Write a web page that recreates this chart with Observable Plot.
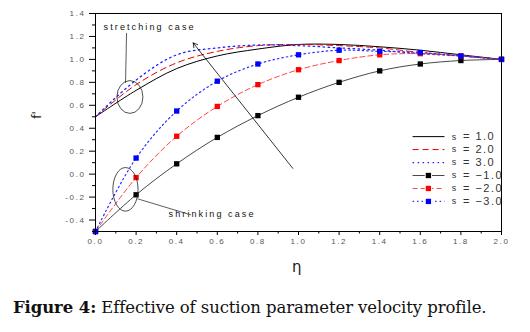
<!DOCTYPE html>
<html><head><meta charset="utf-8">
<script src="https://cdn.jsdelivr.net/npm/d3@7"></script>
<script src="https://cdn.jsdelivr.net/npm/@observablehq/plot@0.6"></script>
<style>
body{margin:0;background:#fff;width:530px;height:332px;overflow:hidden;position:relative}
#chart{position:absolute;left:0;top:0}
#cap{position:absolute;left:13px;top:298px;font-family:"DejaVu Serif",serif;font-size:16.5px;color:#111;white-space:nowrap;letter-spacing:-0.1px}
.axl{position:absolute;font-family:"DejaVu Sans",sans-serif;color:#222}
#ylab{left:33px;top:108px;font-size:12px;transform:rotate(-90deg);transform-origin:center}
#xlab{left:292px;top:258px;font-size:15px}
</style></head><body>
<div id="chart"></div>
<div class="axl" id="ylab">f'</div>
<div class="axl" id="xlab">η</div>
<div id="cap"><b>Figure 4:</b> Effective of suction parameter velocity profile.</div>
<script>
// ---- data ----
const eta = [0.0, 0.2, 0.4, 0.6, 0.8, 1.0, 1.2, 1.4, 1.6, 1.8, 2.0];
const sPos1 = [0.50, 0.73, 0.92, 1.03, 1.09, 1.13, 1.13, 1.11, 1.08, 1.04, 1.00];
const sPos2 = [0.50, 0.78, 0.97, 1.07, 1.12, 1.13, 1.12, 1.10, 1.06, 1.03, 1.00];
const sPos3 = [0.50, 0.82, 1.04, 1.10, 1.125, 1.12, 1.10, 1.08, 1.05, 1.03, 1.00];
const sNeg1 = [-0.50, -0.18, 0.09, 0.32, 0.51, 0.67, 0.80, 0.90, 0.96, 0.99, 1.00];
const sNeg2 = [-0.50, -0.03, 0.33, 0.59, 0.78, 0.91, 0.99, 1.04, 1.05, 1.03, 1.00];
const sNeg3 = [-0.50, 0.14, 0.55, 0.81, 0.96, 1.04, 1.08, 1.07, 1.06, 1.03, 1.00];
const seriesLabels = ["= 1.0", "= 2.0", "= 3.0", "= \u22121.0", "= \u22122.0", "= \u22123.0"];
const xTicks = [0.0, 0.2, 0.4, 0.6, 0.8, 1.0, 1.2, 1.4, 1.6, 1.8, 2.0];
const xMinor = [0.1, 0.3, 0.5, 0.7, 0.9, 1.1, 1.3, 1.5, 1.7, 1.9];
const yTicks = [-0.4, -0.2, 0.0, 0.2, 0.4, 0.6, 0.8, 1.0, 1.2, 1.4];
const yMinor = [-0.5, -0.3, -0.1, 0.1, 0.3, 0.5, 0.7, 0.9, 1.1, 1.3];
const notes = [
  {text: "stretching case", eta: 0.04, f: 1.28},
  {text: "shrinking case", eta: 0.36, f: -0.345}
];
const leaders = [
  {eta1: 0.153, f1: 1.23, eta2: 0.148, f2: 0.795},
  {eta1: 0.207, f1: -0.215, eta2: 0.47, f2: -0.355}
];
const arrowData = [{eta1: 0.972, f1: 0.05, eta2: 0.481, f2: 1.144}];
const ellipses = [
  {eta: 0.172, f: 0.668, rx: 0.064, ry: 0.143},
  {eta: 0.150, f: -0.137, ry: 0.19, rx: 0.062}
];

// ---- build ----
const styles = [
  {stroke: "#000", dash: null, w: 1.0, marker: null},
  {stroke: "#e00000", dash: "6,4", w: 1.0, marker: null},
  {stroke: "#2020ff", dash: "1.5,3.5", w: 1.3, marker: null},
  {stroke: "#333", dash: null, w: 0.9, marker: "#000"},
  {stroke: "#ff3030", dash: "5,3", w: 0.9, marker: "#ff0000"},
  {stroke: "#3030ff", dash: "1.5,3", w: 1.2, marker: "#0000ff"}
];
const allValues = [sPos1, sPos2, sPos3, sNeg1, sNeg2, sNeg3];
const rows = allValues.flatMap((vals, k) => eta.map((e, i) => ({k, eta: e, f: vals[i]})));

// legend anchor (data units)
const legX1 = 1.562, legX2 = 1.719, legMid = 1.64, legS = 1.755, legEq = 1.81;
const legTop = 0.327, legStep = 0.113;
const legend = seriesLabels.map((label, k) => ({k, label, f: legTop - k * legStep}));

const marks = [];
styles.forEach((st, k) => {
  marks.push(Plot.line(rows.filter(d => d.k === k), {
    x: "eta", y: "f", stroke: st.stroke, strokeWidth: st.w,
    strokeDasharray: st.dash, curve: "catmull-rom"
  }));
});
styles.forEach((st, k) => {
  if (st.marker) marks.push(Plot.dot(rows.filter(d => d.k === k), {
    x: "eta", y: "f", symbol: "square", r: 3, fill: st.marker, stroke: "none"
  }));
});
// legend
styles.forEach((st, k) => {
  const L = legend.filter(d => d.k === k);
  marks.push(Plot.link(L, {x1: () => legX1, x2: () => legX2, y1: "f", y2: "f",
    stroke: st.stroke, strokeWidth: st.w, strokeDasharray: st.dash}));
  if (st.marker) marks.push(Plot.dot(L, {x: () => legMid, y: "f", symbol: "square", r: 3, fill: st.marker, stroke: "#fff", strokeWidth: 2}));
  if (st.marker) marks.push(Plot.dot(L, {x: () => legMid, y: "f", symbol: "square", r: 3, fill: st.marker, stroke: "none"}));
});
marks.push(Plot.text(legend, {x: () => legS, y: "f", text: () => "s", textAnchor: "start", fontSize: 9, fill: "#333", fontFamily: "Arial"}));
marks.push(Plot.text(legend, {x: () => legEq, y: "f", text: "label", textAnchor: "start", fontSize: 11, fill: "#333", fontFamily: "Arial", className: "spaced"}));
// annotations
marks.push(Plot.text(notes, {x: "eta", y: "f", text: "text", textAnchor: "start", fontSize: 9, fill: "#111", fontFamily: "Arial", className: "spaced2"}));
marks.push(Plot.link(leaders, {x1: "eta1", y1: "f1", x2: "eta2", y2: "f2", stroke: "#333", strokeWidth: 0.8}));
marks.push(Plot.arrow(arrowData, {x1: "eta1", y1: "f1", x2: "eta2", y2: "f2", stroke: "#000", strokeWidth: 0.8, headLength: 9, bend: 0}));
// axes
marks.push(Plot.axisX({ticks: xTicks, tickSize: 4, tickPadding: 3, fontSize: 8, tickFormat: d => d.toFixed(1), label: null}));
marks.push(Plot.axisX({ticks: xMinor, tickSize: 2.5, text: null, label: null}));
marks.push(Plot.axisY({ticks: yTicks, tickSize: 6, tickPadding: 4, fontSize: 8, tickFormat: d => d.toFixed(1), label: null}));
marks.push(Plot.axisY({ticks: yMinor, tickSize: 3, text: null, label: null}));
marks.push(Plot.frame({stroke: "#000", strokeWidth: 1}));

const plot = Plot.plot({
  width: 530, height: 290,
  marginLeft: 95, marginRight: 29, marginTop: 13, marginBottom: 59,
  x: {domain: [0, 2]},
  y: {domain: [-0.5, 1.4]},
  style: {background: "#fff", color: "#000", fontFamily: "Arial"},
  marks
});
document.getElementById("chart").append(plot);

// ellipses for annotation, positioned through the plot's scales
const sx = plot.scale("x"), sy = plot.scale("y");
const svg = d3.select(plot);
ellipses.forEach(e => {
  const cx = sx.apply(e.eta), cy = sy.apply(e.f);
  const rx = sx.apply(e.eta + e.rx) - cx, ry = cy - sy.apply(e.f + e.ry);
  svg.append("ellipse").attr("cx", cx).attr("cy", cy).attr("rx", rx).attr("ry", ry)
    .attr("fill", "none").attr("stroke", "#222").attr("stroke-width", 0.8);
});
// tick label styling
svg.selectAll("g[aria-label$='tick label'] text").attr("letter-spacing", "1.6").attr("fill", "#555");
svg.selectAll(".spaced text, text.spaced").attr("letter-spacing", "1.5");
svg.selectAll(".spaced2 text, text.spaced2").attr("letter-spacing", "2.1");
</script>
</body></html>
